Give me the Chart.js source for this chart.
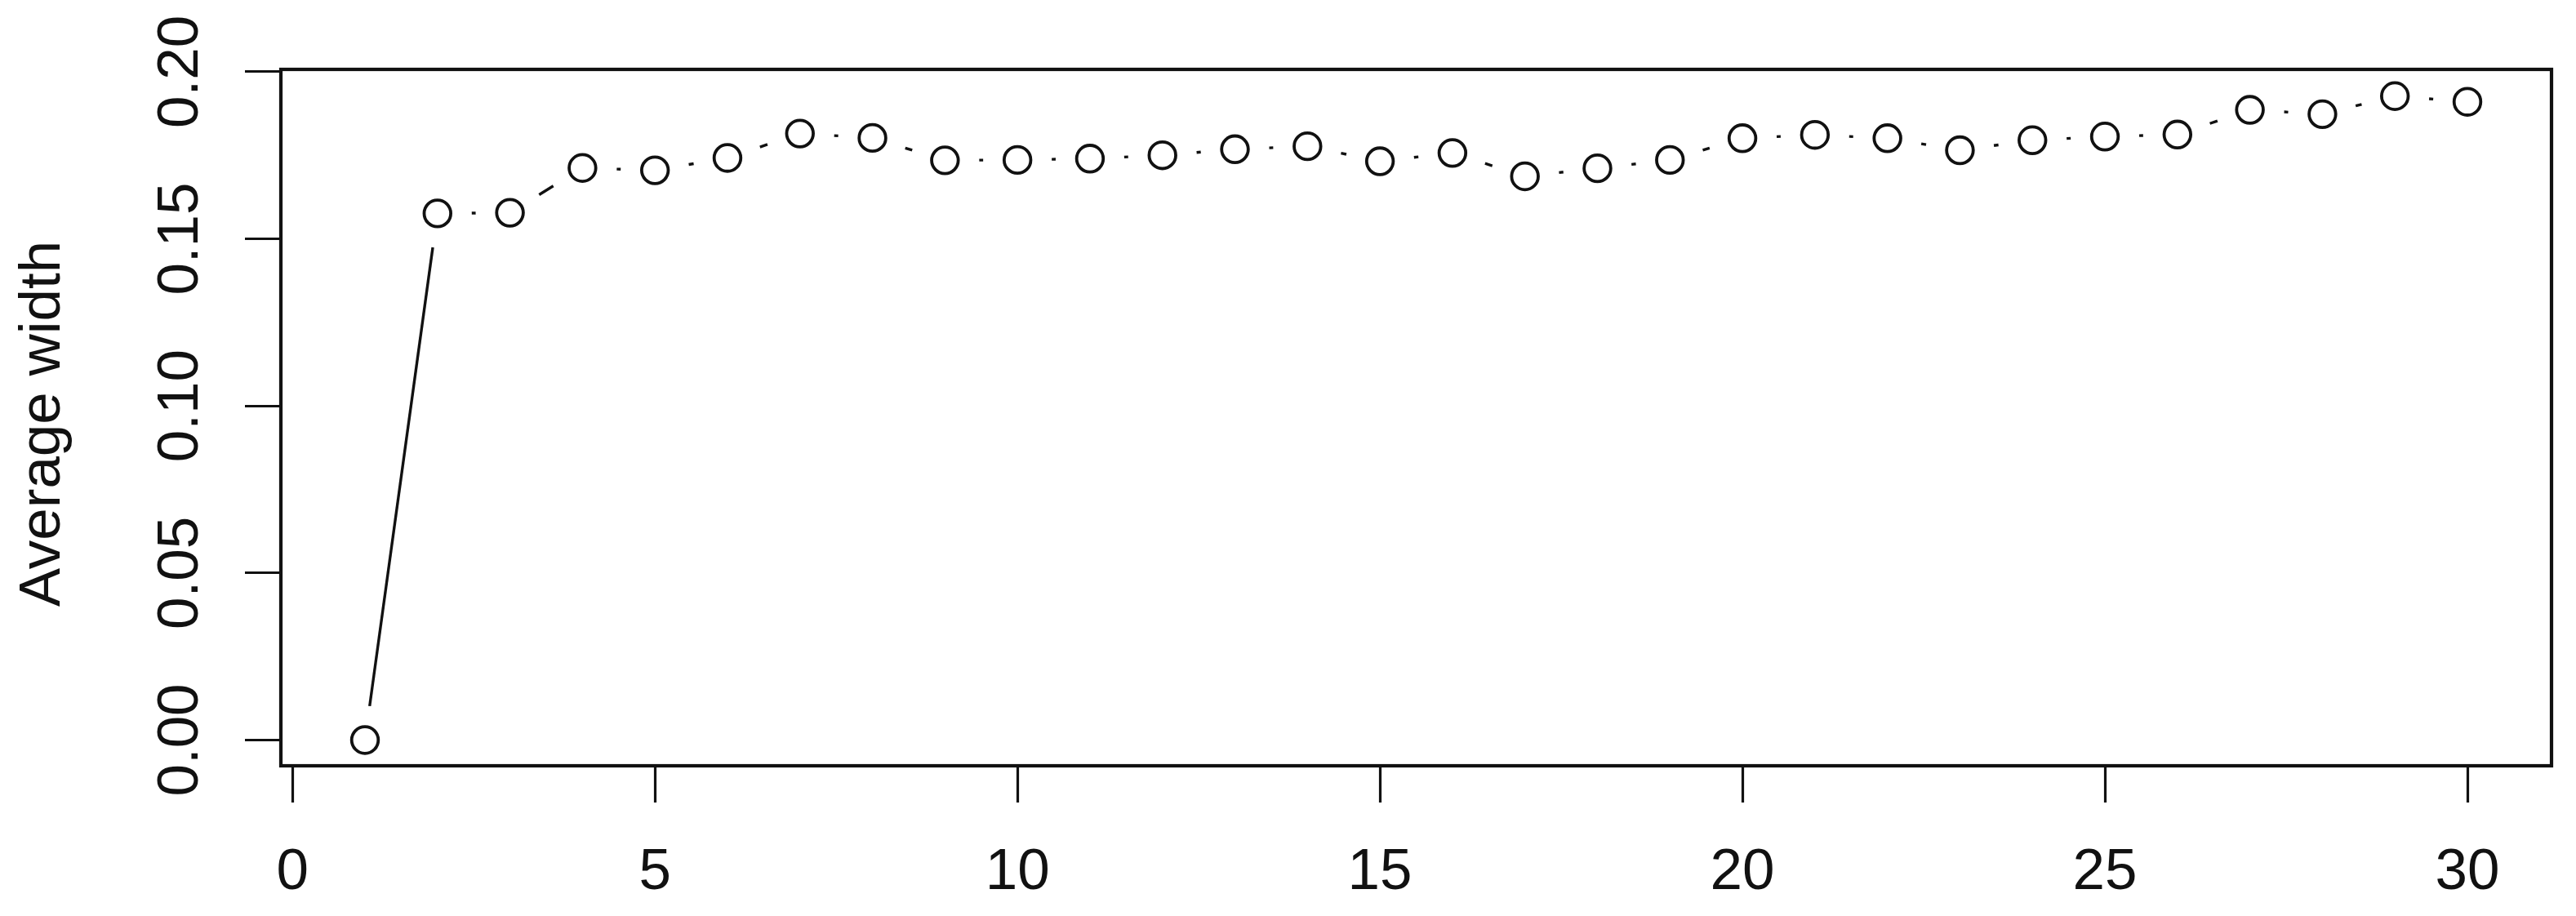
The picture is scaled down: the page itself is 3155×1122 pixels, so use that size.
<!DOCTYPE html>
<html>
<head>
<meta charset="utf-8">
<title>Average width</title>
<script src="https://cdn.jsdelivr.net/npm/chart.js@4"></script>
<style>
    html, body {
        margin: 0;
        padding: 0;
        background: #ffffff;
    }
    #chartWrap {
        width: 3155px;
        height: 1122px;
    }
</style>
</head>
<body>

<div id="chartWrap">
    <canvas id="widthChart" width="3155" height="1122"></canvas>
</div>

<script>

// ================================
// Data
// ================================

const steps = [
    1, 2, 3, 4, 5, 6, 7, 8, 9, 10,
    11, 12, 13, 14, 15, 16, 17, 18, 19, 20,
    21, 22, 23, 24, 25, 26, 27, 28, 29, 30
];

const avgWidth = [
    0.0000, 0.1576, 0.1578, 0.1712, 0.1705, 0.1742, 0.1815, 0.1802, 0.1735, 0.1736,
    0.1740, 0.1750, 0.1768, 0.1777, 0.1732, 0.1757, 0.1687, 0.1711, 0.1736, 0.1801,
    0.1811, 0.1801, 0.1765, 0.1795, 0.1806, 0.1812, 0.1886, 0.1873, 0.1927, 0.1910
];

const xTicks = [0, 5, 10, 15, 20, 25, 30];

const yTicks = [0, 0.05, 0.10, 0.15, 0.20];

const yTickLabels = ["0.00", "0.05", "0.10", "0.15", "0.20"];

const yTitle = "Average width";

// ================================
// Style
// ================================

const FONT = "'Liberation Sans', Arial, Helvetica, sans-serif";
const FONT_SIZE = 71;
const INK = "#111111";
const GAP = 42;          // R type="b": line stops short of each point

// ================================
// Plugin: gapped lines, box, y labels
// ================================

const rStylePlugin = {

    id: "rStyle",

    beforeDatasetsDraw(chart) {

        const ctx = chart.ctx;
        const pts = chart.getDatasetMeta(0).data;

        ctx.save();
        ctx.strokeStyle = INK;
        ctx.lineWidth = 3.4;
        ctx.lineCap = "butt";

        for (let i = 0; i < pts.length - 1; i++) {

            const a = pts[i];
            const b = pts[i + 1];
            const dx = b.x - a.x;
            const dy = b.y - a.y;
            const d = Math.hypot(dx, dy);

            if (d <= 2 * GAP) continue;

            const ux = dx / d;
            const uy = dy / d;

            ctx.beginPath();
            ctx.moveTo(a.x + ux * GAP, a.y + uy * GAP);
            ctx.lineTo(b.x - ux * GAP, b.y - uy * GAP);
            ctx.stroke();

        }

        ctx.restore();

    },

    afterDraw(chart) {

        const ctx = chart.ctx;
        const area = chart.chartArea;
        const yScale = chart.scales.y;

        ctx.save();

        // plot frame
        ctx.strokeStyle = INK;
        ctx.lineWidth = 4.2;
        ctx.strokeRect(area.left, area.top, area.right - area.left, area.bottom - area.top);

        // y tick labels, rotated like R's las=0
        ctx.fillStyle = INK;
        ctx.font = FONT_SIZE + "px " + FONT;
        ctx.textAlign = "center";
        ctx.textBaseline = "alphabetic";

        yTicks.forEach((v, i) => {

            const y = yScale.getPixelForValue(v);

            ctx.save();
            ctx.translate(242, y);
            ctx.rotate(-Math.PI / 2);
            ctx.fillText(yTickLabels[i], 0, 0);
            ctx.restore();

        });

        // y axis title
        ctx.save();
        ctx.translate(73, 519);
        ctx.rotate(-Math.PI / 2);
        ctx.fillText(yTitle, 0, 0);
        ctx.restore();

        ctx.restore();

    }

};

// ================================
// Chart
// ================================

new Chart(document.getElementById("widthChart"), {

    type: "line",

    data: {

        labels: steps,

        datasets: [

            {

                data: steps.map((x, i) => ({ x: x, y: avgWidth[i] })),

                showLine: false,

                pointStyle: "circle",

                pointRadius: 16.3,

                pointBorderWidth: 3.8,

                pointBorderColor: INK,

                pointBackgroundColor: "#ffffff",

                clip: false

            }

        ]

    },

    options: {

        responsive: false,

        devicePixelRatio: 1,

        animation: false,

        layout: {
            padding: { top: 85, right: 30, left: 0, bottom: 0 }
        },

        plugins: {
            legend: { display: false },
            tooltip: { enabled: false }
        },

        scales: {

            x: {
                type: "linear",
                min: -0.16,
                max: 31.16,
                afterBuildTicks: (scale) => {
                    scale.ticks = xTicks.map(v => ({ value: v }));
                },
                afterFit: (scale) => {
                    scale.height = 184;
                },
                border: { display: false },
                grid: {
                    drawOnChartArea: false,
                    drawTicks: true,
                    tickLength: 45,
                    tickWidth: 3.2,
                    tickColor: INK
                },
                ticks: {
                    includeBounds: false,
                    padding: 44,
                    color: INK,
                    font: { family: FONT, size: FONT_SIZE },
                    maxRotation: 0,
                    autoSkip: false,
                    callback: (v) => String(v)
                }
            },

            y: {
                type: "linear",
                min: -0.0077,
                max: 0.2007,
                afterBuildTicks: (scale) => {
                    scale.ticks = yTicks.map(v => ({ value: v }));
                },
                afterFit: (scale) => {
                    scale.width = 344;
                },
                border: { display: false },
                grid: {
                    drawOnChartArea: false,
                    drawTicks: true,
                    tickLength: 44,
                    tickWidth: 3.2,
                    tickColor: INK
                },
                ticks: {
                    display: false,
                    includeBounds: false
                }
            }

        }

    },

    plugins: [rStylePlugin]

});

</script>

</body>
</html>
